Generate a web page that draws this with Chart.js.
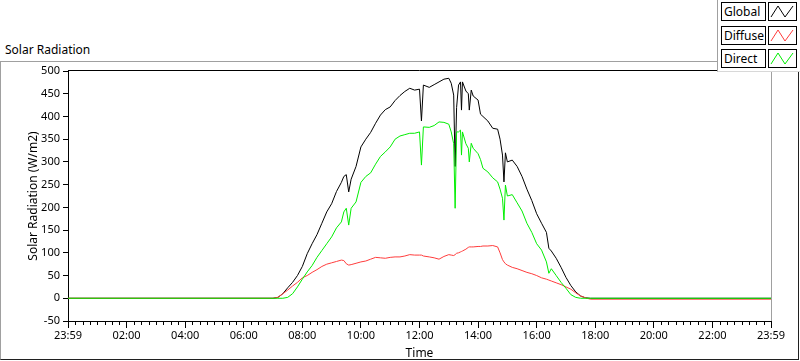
<!DOCTYPE html>
<html>
<head>
<meta charset="utf-8">
<title>Solar Radiation</title>
<script src="https://cdn.jsdelivr.net/npm/chart.js@4"></script>
<style>
  body { margin: 0; background: #fff; font-family: "Noto Sans", sans-serif; }
  #wrap { position: relative; width: 800px; height: 361px; overflow: hidden; }
  #chart { position: absolute; left: 0; top: 0; z-index: 2; }
  #frame {
    position: absolute; left: 0; top: 61px; width: 797px; height: 297px; z-index: 1;
    border-top: 1px solid #a0a0a0; border-left: 1px solid #a0a0a0;
    border-right: 1px solid #202020; border-bottom: 1px solid #202020;
  }
  #title { position: absolute; left: 5px; top: 41px; font-size: 12px; color: #000; }
  #legend {
    position: absolute; left: 717px; top: 0; width: 83px; height: 71px; z-index: 3;
    background: #fff; border-left: 1px solid #a0a0a0; border-bottom: 1px solid #d8d8d8;
  }
  .lg-text {
    position: absolute; left: 3px; width: 41px; height: 17px; border: 1px solid #000;
    font-size: 12px; line-height: 17px; padding-left: 2px; color: #000; box-sizing: content-box;
  }
  .lg-swatch { position: absolute; left: 50px; width: 27px; height: 17px; border: 1px solid #000; }
</style>
</head>
<body>
<div id="wrap">
  <div id="frame"></div>
  <div id="title">Solar Radiation</div>
  <canvas id="chart" width="800" height="361"></canvas>
  <div id="legend"></div>
</div>

<script>
// === DATA (minutes from start of day, W/m2) ===
const times = [0, 420, 430, 440, 450, 460, 470, 480, 490, 500,
  510, 520, 530, 540, 550, 560, 565, 570, 575, 580,
  590, 600, 610, 620, 630, 640, 650, 660, 670, 680,
  690, 700, 710, 720, 724, 728, 740, 750, 760, 770,
  780, 785, 790, 793, 796, 800, 804, 806, 808, 815,
  820, 822, 826, 830, 840, 845, 850, 860, 870, 880,
  885, 890, 893, 896, 900, 910, 920, 930, 940, 950,
  960, 970, 980, 985, 990, 1000, 1010, 1020, 1030, 1040,
  1050, 1060, 1070, 1440];

const globalValues = [0, 0, 2, 10, 23, 35, 50, 70, 98, 120,
  140, 165, 190, 208, 235, 255, 268, 272, 234, 262,
  290, 333, 350, 365, 385, 403, 415, 421, 435, 446,
  455, 462, 458, 460, 390, 469, 464, 470, 476, 482,
  484, 473, 447, 290, 420, 469, 476, 414, 476, 456,
  450, 414, 458, 445, 436, 405, 400, 390, 374, 372,
  350, 315, 256, 320, 300, 304, 290, 268, 240, 215,
  186, 165, 145, 110, 104, 88, 68, 46, 28, 14,
  5, 1, 0, 0];

const diffuseValues = [0, 0, 2, 10, 18, 27, 35, 45, 50, 57,
  63, 70, 75, 78, 81, 84, 83, 76, 73, 74,
  77, 80, 82, 86, 90, 89, 88, 90, 91, 91,
  93, 96, 95, 95, 95, 93, 91, 89, 86, 92,
  96, 95, 94, 96, 99, 100, 102, 103, 104, 108,
  112, 113, 113, 113, 114, 114, 115, 115, 116, 113,
  100, 85, 80, 76, 73, 68, 65, 61, 57, 54,
  50, 45, 42, 40, 38, 34, 30, 25, 20, 12,
  5, 1, -2, -2];

const directValues = [0, 0, 0, 0, 2, 10, 25, 42, 58, 72,
  90, 105, 120, 135, 155, 168, 190, 198, 161, 198,
  212, 255, 268, 276, 295, 312, 322, 333, 350, 357,
  360, 363, 363, 366, 293, 377, 376, 380, 388, 387,
  383, 366, 340, 198, 366, 366, 370, 315, 366, 340,
  330, 300, 341, 330, 318, 305, 286, 278, 265, 256,
  240, 220, 172, 249, 225, 228, 210, 192, 165, 145,
  120, 106, 80, 55, 65, 50, 35, 22, 8, 2,
  0, 0, 0, 0];

const timeLabels = ["23:59", "02:00", "04:00", "06:00", "08:00", "10:00", "12:00",
  "14:00", "16:00", "18:00", "20:00", "22:00", "23:59"];

const seriesNames = ["Global", "Diffuse", "Direct"];
const seriesColors = ["#000000", "#ff3c3c", "#00ee00"];

// === BUILD DATASETS ===
function toPoints(values) {
  return times.map((t, i) => ({ x: t, y: values[i] }));
}

const allValues = [globalValues, diffuseValues, directValues];

let datasets = seriesNames.map((name, i) => ({
  label: name,
  data: toPoints(allValues[i]),
  borderColor: seriesColors[i],
  borderWidth: 1,
  pointRadius: 0,
  tension: 0,
  fill: false,
  order: 3 - i
}));

// === LEGEND (html boxes) ===
let legendHtml = "";
seriesNames.forEach((name, i) => {
  let top = 2 + i * 23.5;
  legendHtml += `
    <div class="lg-text" style="top:${top}px">${name}</div>
    <div class="lg-swatch" style="top:${top}px">
      <svg width="27" height="17"><polyline points="2,14 9,3 16,14 24,3" fill="none" stroke="${seriesColors[i]}" stroke-width="1"/></svg>
    </div>`;
});
document.getElementById("legend").innerHTML = legendHtml;

// === PLOT BORDER + MINOR TICKS ===
const plotExtras = {
  id: "plotExtras",
  afterDraw(chart) {
    const ctx = chart.ctx;
    const a = chart.chartArea;
    const xs = chart.scales.x;

    ctx.save();
    ctx.lineWidth = 1;

    // top border black, right border gray
    ctx.strokeStyle = "#000";
    ctx.beginPath();
    ctx.moveTo(a.left, a.top - 0.5);
    ctx.lineTo(a.right, a.top - 0.5);
    ctx.stroke();

    ctx.strokeStyle = "#a0a0a0";
    ctx.beginPath();
    ctx.moveTo(a.right + 0.5, a.top);
    ctx.lineTo(a.right + 0.5, a.bottom);
    ctx.stroke();

    // minor ticks every 15 minutes
    ctx.strokeStyle = "#000";
    ctx.beginPath();
    for (let t = 15; t < 1440; t += 15) {
      if (t % 120 === 0) continue;
      let px = Math.round(xs.getPixelForValue(t)) + 0.5;
      ctx.moveTo(px, a.bottom + 1);
      ctx.lineTo(px, a.bottom + 4);
    }
    ctx.stroke();
    ctx.restore();
  }
};

// === CHART ===
new Chart(document.getElementById("chart"), {
  type: "line",
  data: { datasets },
  options: {
    responsive: false,
    animation: false,
    layout: { padding: { left: 0, top: 71, right: 29, bottom: 0 } },
    plugins: { legend: { display: false }, tooltip: { enabled: false } },
    scales: {
      x: {
        type: "linear",
        min: 0,
        max: 1440,
        afterFit: (scale) => { scale.height = 40; },
        afterBuildTicks: (scale) => {
          scale.ticks = timeLabels.map((lab, i) => ({ value: i * 120 }));
        },
        ticks: {
          autoSkip: false,
          maxRotation: 0,
          padding: 1,
          color: "#000",
          font: { family: "Noto Sans", size: 11 },
          callback: (v, i) => timeLabels[i]
        },
        grid: { drawOnChartArea: false, drawTicks: true, tickLength: 7, color: "#000" },
        border: { display: true, color: "#000" },
        title: {
          display: true,
          text: "Time",
          color: "#000",
          font: { family: "Noto Sans", size: 12 },
          padding: { top: 0, bottom: 0 }
        }
      },
      y: {
        min: -50,
        max: 500,
        afterFit: (scale) => { scale.width = 68; },
        ticks: {
          stepSize: 50,
          padding: 3,
          color: "#000",
          font: { family: "Noto Sans", size: 11 }
        },
        grid: { drawOnChartArea: false, drawTicks: true, tickLength: 5, color: "#000" },
        border: { display: true, color: "#000" },
        title: {
          display: true,
          text: "Solar Radiation (W/m2)",
          color: "#000",
          font: { family: "Noto Sans", size: 12 },
          padding: { top: 26, bottom: 0 }
        }
      }
    }
  },
  plugins: [plotExtras]
});
</script>
</body>
</html>
